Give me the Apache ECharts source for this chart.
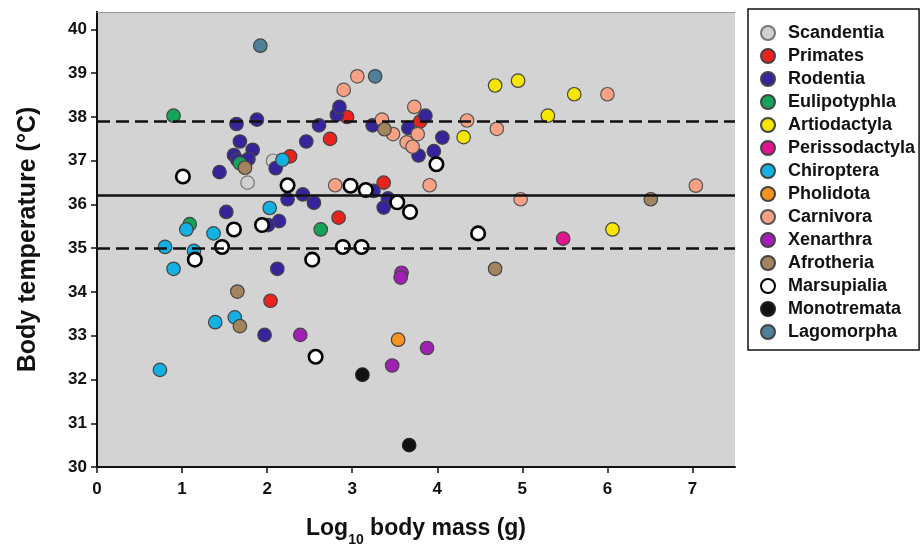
<!DOCTYPE html>
<html><head><meta charset="utf-8">
<script src="https://cdn.jsdelivr.net/npm/echarts@6/dist/echarts.min.js"></script>
<style>html,body{margin:0;padding:0;background:#fff}#c{width:923px;height:545px}</style>
</head><body><div id="c"></div>
<script>
const xTicks = [0,1,2,3,4,5,6,7];
const yTicks = [30,31,32,33,34,35,36,37,38,39,40];
const meanLine = 36.2;
const bandLines = [37.9, 35.0];

const groups = ["Scandentia","Primates","Rodentia","Eulipotyphla","Artiodactyla","Perissodactyla","Chiroptera","Pholidota","Carnivora","Xenarthra","Afrotheria","Marsupialia","Monotremata","Lagomorpha"];

const scandentia = [[2.07,37.0],[1.77,36.5]];
const primates = [[2.94,38.0],[2.74,37.5],[2.27,37.1],[3.80,37.9],[3.37,36.5],[2.84,35.7],[2.04,33.8]];
const rodentia = [[1.64,37.84],[1.88,37.94],[1.68,37.44],[1.83,37.25],[1.61,37.13],[1.65,37.02],[1.78,37.04],[1.44,36.74],[2.10,36.83],[2.46,37.44],[2.61,37.81],[2.82,38.05],[2.85,38.23],[3.24,37.81],[3.66,37.75],[3.86,38.03],[4.06,37.53],[3.96,37.22],[3.78,37.12],[2.24,36.12],[2.42,36.23],[2.55,36.04],[3.25,36.31],[3.42,36.14],[3.37,35.93],[1.52,35.83],[2.14,35.62],[2.01,35.53],[2.12,34.53],[1.97,33.02]];
const eulipotyphla = [[0.90,38.03],[1.68,36.94],[1.09,35.55],[2.63,35.43]];
const artiodactyla = [[4.68,38.72],[4.95,38.83],[5.61,38.52],[5.30,38.03],[4.31,37.54],[6.06,35.43]];
const perissodactyla = [[5.48,35.22]];
const chiroptera = [[2.18,37.02],[2.03,35.92],[1.05,35.43],[1.37,35.34],[0.80,35.03],[1.14,34.94],[0.90,34.53],[1.39,33.31],[1.62,33.42],[0.74,32.22]];
const pholidota = [[3.54,32.91]];
const carnivora = [[3.06,38.93],[2.90,38.62],[3.73,38.23],[3.35,37.94],[3.48,37.61],[3.77,37.61],[3.64,37.42],[3.71,37.32],[4.35,37.92],[4.70,37.73],[6.00,38.52],[2.80,36.44],[3.91,36.44],[4.98,36.12],[7.04,36.43]];
const xenarthra = [[2.39,33.02],[3.58,34.44],[3.57,34.33],[3.88,32.72],[3.47,32.32]];
const afrotheria = [[1.74,36.84],[3.38,37.72],[1.65,34.01],[1.68,33.22],[4.68,34.53],[6.51,36.12]];
const marsupialia = [[1.01,36.64],[2.24,36.44],[2.98,36.43],[3.16,36.33],[3.53,36.05],[3.68,35.83],[3.99,36.92],[1.61,35.43],[1.94,35.53],[1.47,35.03],[2.89,35.03],[3.11,35.03],[1.15,34.74],[2.53,34.74],[4.48,35.34],[2.57,32.52]];
const monotremata = [[3.12,32.11],[3.67,30.5]];
const lagomorpha = [[1.92,39.63],[3.27,38.93]];

const groupData = [scandentia,primates,rodentia,eulipotyphla,artiodactyla,perissodactyla,chiroptera,pholidota,carnivora,xenarthra,afrotheria,marsupialia,monotremata,lagomorpha];
const fills = ["#d0d0d0","#e8231e","#36249a","#15a35a","#f7e600","#e0148c","#13b0e2","#f7931e","#f9a184","#a21fb5","#a3845e","#ffffff","#111111","#4f7f99"];
const borders = ["#777","#444","#444","#444","#444","#444","#444","#444","#555","#444","#444","#000","#222","#444"];
const borderW = [1.2,1.2,1.2,1.2,1.2,1.2,1.2,1.2,1.2,1.2,1.2,2.6,1.2,1.2];

const chart = echarts.init(document.getElementById('c'), null, {renderer:'canvas'});
const series = groups.map((g,i)=>({
  name:g, type:'scatter', data:groupData[i], symbol:'circle', symbolSize:13.5,
  itemStyle:{color:fills[i], borderColor:borders[i], borderWidth:borderW[i], opacity:1},
  emphasis:{disabled:true}, z:3
}));
series.push({
  type:'line', data:[], silent:true, z:2,
  markLine:{silent:true, symbol:'none', label:{show:false},
    data:[
      {yAxis:meanLine, lineStyle:{color:'#111', width:2.6, type:'solid'}},
      {yAxis:bandLines[0], lineStyle:{color:'#111', width:2.6, type:[13,6]}},
      {yAxis:bandLines[1], lineStyle:{color:'#111', width:2.6, type:[13,6]}}
    ]}
});
const font = 'Liberation Sans, Arial, sans-serif';
chart.setOption({
  animation:false,
  backgroundColor:'#fff',
  grid:{left:97, right:188, top:12, bottom:78, show:true, backgroundColor:'#d3d3d3', borderWidth:0, outerBoundsMode:'none', containLabel:false},
  legend:{
    orient:'vertical', left:748, top:9, data:groups,
    itemWidth:14, itemHeight:14, itemGap:5, icon:'circle',
    backgroundColor:'#fff', borderColor:'#111', borderWidth:1.5, borderRadius:0,
    padding:[15,4,9,12],
    textStyle:{fontFamily:font, fontWeight:'bold', fontSize:18, color:'#111', lineHeight:17, padding:[0,0,0,8]},
    selectedMode:false
  },
  xAxis:[{
    type:'value', min:0, max:7.5, interval:1,
    name:'{a|Log}{s|10}{a| body mass (g)}', nameLocation:'middle', nameGap:50,
    nameTextStyle:{rich:{a:{fontFamily:font,fontWeight:'bold',fontSize:23,color:'#111',verticalAlign:'bottom'},s:{fontFamily:font,fontWeight:'bold',fontSize:14,color:'#111',verticalAlign:'bottom',padding:[0,0,-7,0]}}},
    axisLine:{show:true, onZero:false, lineStyle:{color:'#111', width:2}},
    axisTick:{show:true, length:6, lineStyle:{color:'#111', width:1.5}, customValues:xTicks},
    axisLabel:{fontFamily:font, fontWeight:'bold', fontSize:17, color:'#111', margin:14, customValues:xTicks},
    splitLine:{show:false}
  },{
    type:'value', position:'top', min:0, max:7.5, show:true,
    axisLine:{show:true, lineStyle:{color:'#9a9a9a', width:1}},
    axisTick:{show:false}, axisLabel:{show:false}, splitLine:{show:false}
  }],
  yAxis:[{
    type:'value', min:30, max:40.4, interval:1,
    name:'Body temperature (°C)', nameLocation:'middle', nameGap:56, nameRotate:90,
    nameTextStyle:{fontFamily:font, fontWeight:'bold', fontSize:25, color:'#111'},
    axisLine:{show:true, onZero:false, lineStyle:{color:'#111', width:2}},
    axisTick:{show:true, length:6, lineStyle:{color:'#111', width:1.5}, customValues:yTicks},
    axisLabel:{fontFamily:font, fontWeight:'bold', fontSize:17, color:'#111', margin:10, customValues:yTicks},
    splitLine:{show:false}
  },{
    type:'value', position:'right', min:30, max:40.4, show:true,
    axisLine:{show:true, lineStyle:{color:'#111', width:2}},
    axisTick:{show:false}, axisLabel:{show:false}, splitLine:{show:false}
  }],
  series:series
});
</script></body></html>
